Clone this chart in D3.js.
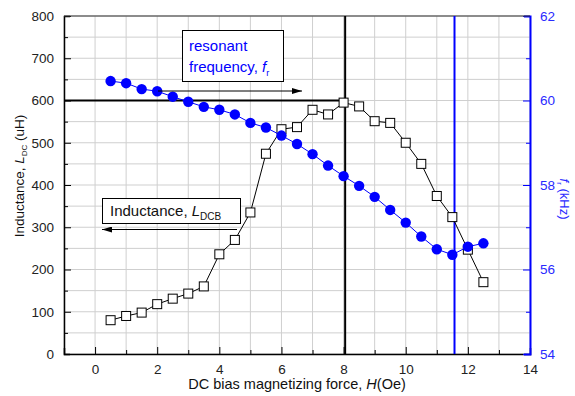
<!DOCTYPE html>
<html>
<head>
<meta charset="utf-8">
<script src="https://cdn.jsdelivr.net/npm/d3@7"></script>
<style>
  body { margin: 0; background: #fff; }
  svg { font-family: "Liberation Sans", Arial, sans-serif; }
</style>
</head>
<body>
<svg id="chart" width="575" height="396"></svg>
<script>
const margin = { top: 16, right: 45, bottom: 42, left: 64 };
const width = 575 - margin.left - margin.right;
const height = 396 - margin.top - margin.bottom;

// DC bias H (Oe)
var hValues = [0.5, 1, 1.5, 2, 2.5, 3, 3.5, 4, 4.5, 5, 5.5, 6, 6.5, 7, 7.5, 8, 8.5, 9, 9.5, 10, 10.5, 11, 11.5, 12, 12.5]
// inductance L_DC (uH)
var inductance = [80, 90, 98, 118, 131, 143, 160, 236, 270, 335, 474, 532, 537, 578, 567, 595, 586, 551, 547, 500, 450, 374, 324, 247, 170]
// resonant frequency f_r (kHz)
var frequency = [60.46, 60.41, 60.27, 60.22, 60.09, 59.97, 59.85, 59.78, 59.67, 59.47, 59.36, 59.17, 58.97, 58.73, 58.46, 58.21, 57.98, 57.72, 57.41, 57.11, 56.78, 56.48, 56.35, 56.54, 56.62]

var xTicks = [0, 2, 4, 6, 8, 10, 12, 14]
var yTicks = [0, 100, 200, 300, 400, 500, 600, 700, 800]
var fTicks = [54, 56, 58, 60, 62]

// marker lines: peak inductance, min frequency
var peakH = 8.05
var peakL = 600
var minFreqH = 11.57

var blue = '#0000ff'

var svg = d3.select('#chart')
var g = svg.append('g')
    .attr('transform', 'translate(' + margin.left + ',' + margin.top + ')')

var xScale = d3.scaleLinear().domain([-1, 14]).range([0, width])
var yScale = d3.scaleLinear().domain([0, 800]).range([height, 0])
var fScale = d3.scaleLinear().domain([54, 62]).range([height, 0])

// grid
g.append('g').selectAll('line')
    .data(d3.range(-1, 15))
    .join('line')
    .attr('x1', d => xScale(d)).attr('x2', d => xScale(d))
    .attr('y1', 0).attr('y2', height)
    .attr('stroke', '#cfcfcf').attr('stroke-width', 1)

g.append('g').selectAll('line')
    .data(d3.range(0, 801, 50))
    .join('line')
    .attr('x1', 0).attr('x2', width)
    .attr('y1', d => yScale(d)).attr('y2', d => yScale(d))
    .attr('stroke', '#cfcfcf').attr('stroke-width', 1)

// axes (ticks pointing inward)
const xAxis = d3.axisBottom(xScale)
    .tickValues(d3.range(-1, 15)).tickSize(-6).tickPadding(10)
    .tickFormat(d => xTicks.includes(d) ? d : '')
g.append('g')
    .attr('id', 'x-axis')
    .attr('transform', 'translate(0,' + height + ')')
    .call(xAxis)
g.select('#x-axis').selectAll('.tick line')
    .attr('y2', d => xTicks.includes(d) ? -7 : -4)

const yAxis = d3.axisLeft(yScale)
    .tickValues(d3.range(0, 801, 50)).tickSize(-6).tickPadding(10)
    .tickFormat(d => yTicks.includes(d) ? d : '')
g.append('g')
    .attr('id', 'y-axis')
    .call(yAxis)
g.select('#y-axis').selectAll('.tick line')
    .attr('x2', d => yTicks.includes(d) ? 7 : 4)

const fAxis = d3.axisRight(fScale)
    .tickValues(d3.range(54, 62.1, 1)).tickSize(-6).tickPadding(10)
    .tickFormat(d => fTicks.includes(d) ? d : '')
g.append('g')
    .attr('id', 'f-axis')
    .attr('transform', 'translate(' + width + ',0)')
    .call(fAxis)
g.select('#f-axis').selectAll('.tick line')
    .attr('x2', d => fTicks.includes(d) ? -7 : -4)

g.selectAll('.domain').attr('stroke-width', 1.5)
g.selectAll('#x-axis text, #y-axis text')
    .attr('fill', '#222').style('font-size', '13.5px')
g.select('#f-axis .domain').attr('stroke', blue).attr('stroke-width', 2)
g.selectAll('#f-axis .tick line').attr('stroke', blue)
g.selectAll('#f-axis text').attr('fill', '#2a2aff').style('font-size', '13.5px')

// top frame
g.append('line')
    .attr('x1', 0).attr('x2', width).attr('y1', 0).attr('y2', 0)
    .attr('stroke', '#333').attr('stroke-width', 1.2)

// reference lines
g.append('line')
    .attr('x1', xScale(peakH)).attr('x2', xScale(peakH))
    .attr('y1', 0).attr('y2', height)
    .attr('stroke', '#000').attr('stroke-width', 2)
g.append('line')
    .attr('x1', 0).attr('x2', xScale(peakH))
    .attr('y1', yScale(peakL)).attr('y2', yScale(peakL))
    .attr('stroke', '#000').attr('stroke-width', 2)
g.append('line')
    .attr('x1', xScale(minFreqH)).attr('x2', xScale(minFreqH))
    .attr('y1', 0).attr('y2', height)
    .attr('stroke', blue).attr('stroke-width', 2)

// inductance series
var lData = hValues.map((h, i) => ({ h: h, v: inductance[i] }))
g.append('path')
    .datum(lData)
    .attr('fill', 'none').attr('stroke', '#000').attr('stroke-width', 1)
    .attr('d', d3.line().x(d => xScale(d.h)).y(d => yScale(d.v)))
g.append('g').selectAll('rect')
    .data(lData)
    .join('rect')
    .attr('x', d => xScale(d.h) - 4.5).attr('y', d => yScale(d.v) - 4.5)
    .attr('width', 9).attr('height', 9)
    .attr('fill', '#fff').attr('stroke', '#000').attr('stroke-width', 1)

// frequency series
var fData = hValues.map((h, i) => ({ h: h, v: frequency[i] }))
g.append('path')
    .datum(fData)
    .attr('fill', 'none').attr('stroke', blue).attr('stroke-width', 1)
    .attr('d', d3.line().x(d => xScale(d.h)).y(d => fScale(d.v)))
g.append('g').selectAll('circle')
    .data(fData)
    .join('circle')
    .attr('cx', d => xScale(d.h)).attr('cy', d => fScale(d.v))
    .attr('r', 5.2)
    .attr('fill', blue)

// arrow heads
var defs = svg.append('defs')
defs.append('marker')
    .attr('id', 'arrow').attr('viewBox', '0 0 10 6')
    .attr('refX', 10).attr('refY', 3)
    .attr('markerWidth', 10).attr('markerHeight', 6)
    .attr('markerUnits', 'userSpaceOnUse')
    .attr('orient', 'auto')
    .append('path').attr('d', 'M0,0 L10,3 L0,6 Z').attr('fill', '#000')

// annotation: resonant frequency
svg.append('rect')
    .attr('x', 182.5).attr('y', 30.5).attr('width', 101).attr('height', 51)
    .attr('fill', '#fff').attr('stroke', '#000').attr('stroke-width', 1)
svg.append('text')
    .attr('x', 189).attr('y', 51)
    .attr('fill', blue).style('font-size', '15px')
    .text('resonant')
var freqLabel = svg.append('text')
    .attr('x', 189).attr('y', 72)
    .attr('fill', blue).style('font-size', '15px')
freqLabel.append('tspan').text('frequency, ')
freqLabel.append('tspan').style('font-style', 'italic').text('f')
freqLabel.append('tspan').attr('dy', 4).style('font-size', '9px').text('r')
svg.append('line')
    .attr('x1', 158).attr('x2', 302).attr('y1', 91).attr('y2', 91)
    .attr('stroke', '#000').attr('stroke-width', 1)
    .attr('marker-end', 'url(#arrow)')

// annotation: inductance
svg.append('rect')
    .attr('x', 102.5).attr('y', 198.5).attr('width', 138).attr('height', 25)
    .attr('fill', '#fff').attr('stroke', '#000').attr('stroke-width', 1)
var indLabel = svg.append('text')
    .attr('x', 110).attr('y', 216)
    .attr('fill', '#111').style('font-size', '15px')
indLabel.append('tspan').text('Inductance, ')
indLabel.append('tspan').style('font-style', 'italic').text('L')
indLabel.append('tspan').attr('dy', 4).style('font-size', '10px').text('DCB')
svg.append('line')
    .attr('x1', 237).attr('x2', 102).attr('y1', 229.5).attr('y2', 229.5)
    .attr('stroke', '#000').attr('stroke-width', 1)
    .attr('marker-end', 'url(#arrow)')

// axis titles
var xTitle = svg.append('text')
    .attr('x', 297).attr('y', 389)
    .attr('text-anchor', 'middle')
    .attr('fill', '#111').style('font-size', '14.5px')
xTitle.append('tspan').text('DC bias magnetizing force, ')
xTitle.append('tspan').style('font-style', 'italic').text('H')
xTitle.append('tspan').text('(Oe)')

var yTitle = svg.append('text')
    .attr('transform', 'translate(24,176) rotate(-90)')
    .attr('text-anchor', 'middle')
    .attr('fill', '#111').style('font-size', '13.5px')
yTitle.append('tspan').text('Inductance,  ')
yTitle.append('tspan').style('font-style', 'italic').text('L')
yTitle.append('tspan').attr('dy', 3).style('font-size', '8px').text('DC')
yTitle.append('tspan').attr('dy', -3).text(' (uH)')

var fTitle = svg.append('text')
    .attr('transform', 'translate(560,199) rotate(90)')
    .attr('text-anchor', 'middle')
    .attr('fill', '#2a2aff').style('font-size', '13px')
fTitle.append('tspan').style('font-style', 'italic').text('f')
fTitle.append('tspan').attr('dy', 3).style('font-size', '8px').text('r')
fTitle.append('tspan').attr('dy', -3).text(' (kHz)')
</script>
</body>
</html>
